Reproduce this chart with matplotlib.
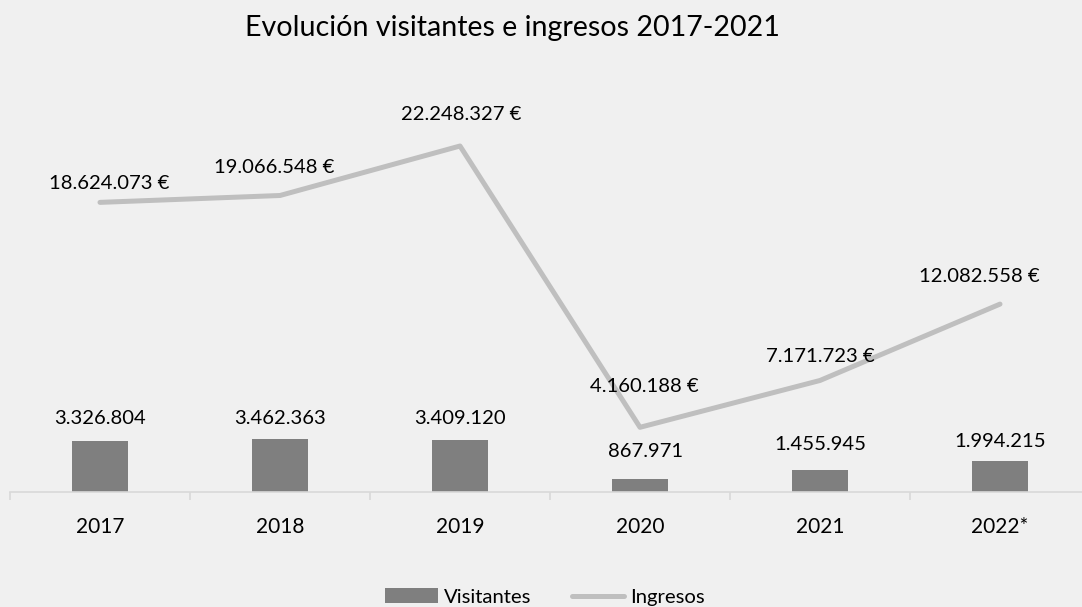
import numpy as np
import matplotlib.pyplot as plt

# Visitantes e ingresos por año
anios = ["2017", "2018", "2019", "2020", "2021", "2022*"]
visitantes = [3326804, 3462363, 3409120, 867971, 1455945, 1994215]
ingresos = [18624073, 19066548, 22248327, 4160188, 7171723, 12082558]

# desplazamiento de las etiquetas (px)
off_vis = [(0, 22), (0, 20), (0, 21), (6, 27), (0, 25), (0, 20)]
off_ing = [(9, 19), (-6, 28), (1, 32), (4, 41), (0, 24), (-21, 28)]

def miles(v):
    return f"{v:,}".replace(",", ".")

plt.rcParams['font.family'] = ['Lato', 'DejaVu Sans']
fondo = "#F0F0F0"
fs = 14.6

fig = plt.figure(figsize=(10.82, 6.07), dpi=100, facecolor=fondo)
ax = fig.add_axes([10/1082, 115/607, 1080/1082, 388/607])
ax.set_facecolor(fondo)
ax2 = ax.twinx()

x = np.arange(len(anios))
ax.bar(x, visitantes, width=0.31, color="#7F7F7F", label="Visitantes", zorder=2)
ax2.plot(x, ingresos, color="#BFBFBF", lw=3.6, solid_capstyle="round",
         solid_joinstyle="round", label="Ingresos", zorder=3)

ax.set_xlim(-0.5, 5.5)
ax.set_ylim(0, 25.3e6)
ax2.set_ylim(0, 24.95e6)

for a in (ax, ax2):
    for s in ("top", "right", "left"):
        a.spines[s].set_visible(False)
    a.set_yticks([])
ax2.spines["bottom"].set_visible(False)
ax.spines["bottom"].set_color("#D9D9D9")
ax.spines["bottom"].set_linewidth(1.2)

ax.set_xticks(x)
ax.set_xticklabels(anios, fontsize=15)
ax.tick_params(axis="x", which="major", length=0, pad=18)
ax.set_xticks(np.arange(-0.5, 6, 1), minor=True)
ax.tick_params(axis="x", which="minor", length=6, color="#D9D9D9", width=1.2)

for i, v in enumerate(visitantes):
    ax.annotate(miles(v), (x[i], v), xytext=(off_vis[i][0]*0.72, off_vis[i][1]*0.72),
                textcoords="offset points", ha="center", va="center", fontsize=fs)
for i, v in enumerate(ingresos):
    ax2.annotate(miles(v) + " €", (x[i], v), xytext=(off_ing[i][0]*0.72, off_ing[i][1]*0.72),
                 textcoords="offset points", ha="center", va="center", fontsize=fs)

fig.text(512/1082, 1 - 28/607, "Evolución visitantes e ingresos 2017-2021",
         ha="center", va="center", fontsize=20.6)

h1, l1 = ax.get_legend_handles_labels()
h2, l2 = ax2.get_legend_handles_labels()
fig.legend(h1 + h2, l1 + l2, loc="center", bbox_to_anchor=(545/1082, 1 - 597/607),
           ncol=2, frameon=False, fontsize=fs, handlelength=2.6, handletextpad=0.3,
           columnspacing=2.0)

fig.savefig("out.png", dpi=100, facecolor=fondo)
